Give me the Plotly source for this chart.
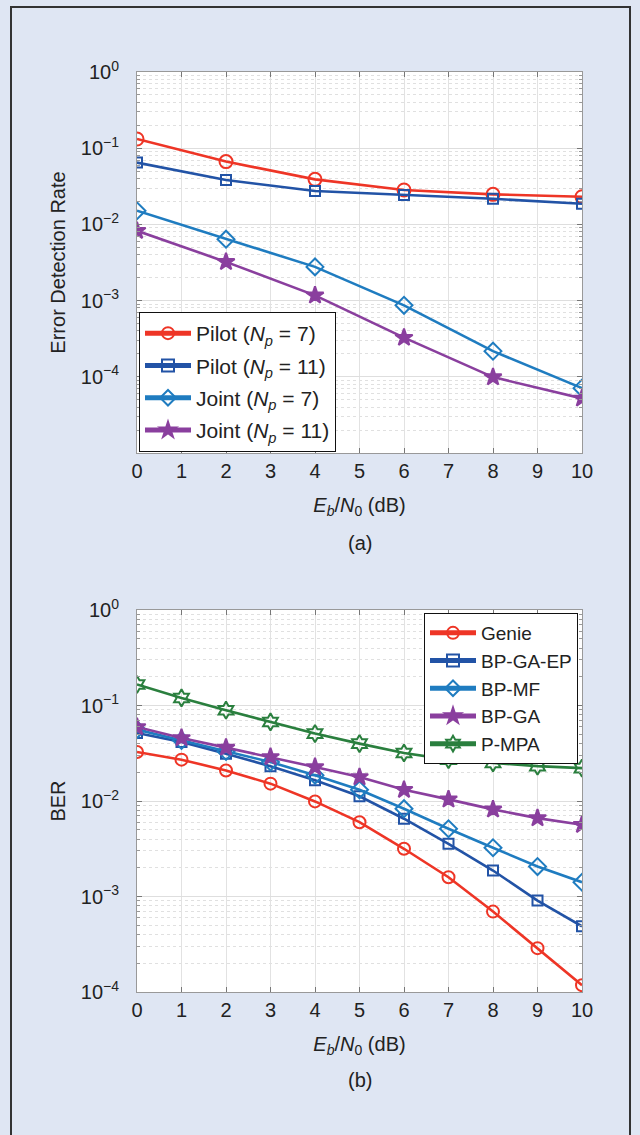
import plotly.graph_objects as go

# ---------------- data ----------------
snr_a = [0, 2, 4, 6, 8, 10]
pilot_np7 = [0.132, 0.0667, 0.039, 0.0283, 0.0248, 0.0231]
pilot_np11 = [0.0647, 0.0383, 0.0274, 0.0243, 0.0217, 0.0187]
joint_np7 = [0.0151, 0.0064, 0.00277, 0.000867, 0.000217, 7.1e-5]
joint_np11 = [0.00824, 0.00322, 0.00117, 0.000326, 9.9e-5, 5.2e-5]

snr_b = [0, 1, 2, 3, 4, 5, 6, 7, 8, 9, 10]
genie = [0.0326, 0.0271, 0.0209, 0.0152, 0.0099, 0.0060, 0.00316, 0.00159, 0.000695, 0.000288, 0.000118]
bp_ga_ep = [0.0516, 0.0415, 0.0313, 0.0231, 0.0165, 0.0112, 0.00652, 0.00356, 0.00187, 0.000906, 0.000487]
bp_mf = [0.056, 0.043, 0.033, 0.0256, 0.0186, 0.0131, 0.0083, 0.00512, 0.00324, 0.00206, 0.00141]
bp_ga = [0.0596, 0.0457, 0.0362, 0.0289, 0.0227, 0.0178, 0.0131, 0.0104, 0.00817, 0.00662, 0.00564]
p_mpa = [0.166, 0.120, 0.0893, 0.0673, 0.0508, 0.0399, 0.0318, 0.0271, 0.0250, 0.0232, 0.0221]

x_ticks = list(range(0, 11))
y_tickvals = [1, 0.1, 0.01, 0.001, 0.0001]
y_ticktext = ["10<sup>0</sup>", "10<sup>−1</sup>", "10<sup>−2</sup>", "10<sup>−3</sup>", "10<sup>−4</sup>"]

legend_a = ["Pilot (<i>N<sub>p</sub></i> = 7)", "Pilot (<i>N<sub>p</sub></i> = 11)",
            "Joint (<i>N<sub>p</sub></i> = 7)", "Joint (<i>N<sub>p</sub></i> = 11)"]
legend_b = ["Genie", "BP-GA-EP", "BP-MF", "BP-GA", "P-MPA"]

# ---------------- styles ----------------
RED = "#ee3526"
DBLUE = "#2253a6"
LBLUE = "#1f7cc0"
PURPLE = "#8a3f9e"
GREEN = "#2a7f3e"
BG = "#dfe6f3"
FONT = "Liberation Sans, Arial, sans-serif"
W, H = 640, 1135

fig = go.Figure()

def add(x, y, name, color, symbol, size, xa, ya, legend, group):
    marker = dict(symbol=symbol, size=size, color=color,
                  line=dict(color=color, width=2))
    fig.add_trace(go.Scatter(x=x, y=y, name=name, mode="lines+markers",
                             line=dict(color=color, width=2.6),
                             marker=marker, xaxis=xa, yaxis=ya,
                             legend=legend, legendgroup=group))

add(snr_a, pilot_np7, legend_a[0], RED, "circle-open", 13, "x", "y", "legend", "a1")
add(snr_a, pilot_np11, legend_a[1], DBLUE, "square-open", 10, "x", "y", "legend", "a2")
add(snr_a, joint_np7, legend_a[2], LBLUE, "diamond-open", 13, "x", "y", "legend", "a3")
add(snr_a, joint_np11, legend_a[3], PURPLE, "star", 13, "x", "y", "legend", "a4")

add(snr_b, genie, legend_b[0], RED, "circle-open", 12, "x2", "y2", "legend2", "b1")
add(snr_b, bp_ga_ep, legend_b[1], DBLUE, "square-open", 10, "x2", "y2", "legend2", "b2")
add(snr_b, bp_mf, legend_b[2], LBLUE, "diamond-open", 13, "x2", "y2", "legend2", "b3")
add(snr_b, bp_ga, legend_b[3], PURPLE, "star", 13, "x2", "y2", "legend2", "b4")
add(snr_b, p_mpa, legend_b[4], GREEN, "hexagram-open", 13, "x2", "y2", "legend2", "b5")

xdom = [137 / W, 582 / W]
ydom_a = [1 - 453 / H, 1 - 72 / H]
ydom_b = [1 - 992 / H, 1 - 610 / H]

xtitle = "<i>E<sub>b</sub></i>/<i>N</i><sub>0</sub> (dB)"

def xaxis(anchor):
    return dict(domain=xdom, anchor=anchor, range=[0, 10], tickvals=x_ticks,
                ticks="inside", ticklen=5, tickcolor="#777", mirror="allticks",
                showline=True, linecolor="#999", linewidth=1,
                showgrid=True, gridcolor="#e2e2e2", gridwidth=1, zeroline=False,
                tickfont=dict(size=20, color="#222", family=FONT),
                ticklabelstandoff=0,
                title=dict(text=xtitle, font=dict(size=20, color="#222", family=FONT), standoff=16))

def yaxis(anchor, dom, rng, title):
    return dict(domain=dom, anchor=anchor, type="log", range=rng,
                tickvals=y_tickvals, ticktext=y_ticktext,
                ticks="inside", ticklen=5, tickcolor="#777", mirror="allticks",
                showline=True, linecolor="#999", linewidth=1,
                showgrid=True, gridcolor="#dedede", gridwidth=1, zeroline=False,
                minor=dict(dtick="D1", ticks="inside", ticklen=3, tickcolor="#999",
                           showgrid=True, gridcolor="#e0e0e0", griddash="dot", gridwidth=1),
                tickfont=dict(size=20, color="#222", family=FONT),
                ticklabelstandoff=13,
                title=dict(text=title, font=dict(size=20, color="#222", family=FONT), standoff=9))

fig.update_layout(
    width=W, height=H, autosize=False,
    margin=dict(l=0, r=0, t=0, b=0, pad=0, autoexpand=False),
    paper_bgcolor=BG, plot_bgcolor="white",
    font=dict(family=FONT, size=20, color="#222"),
    xaxis=xaxis("y"),
    yaxis=yaxis("x", ydom_a, [-5, 0], "Error Detection Rate"),
    xaxis2=xaxis("y2"),
    yaxis2=yaxis("x2", ydom_b, [-4, 0], "BER"),
    legend=dict(x=139 / W, y=1 - 452 / H, xanchor="left", yanchor="bottom",
                bgcolor="white", bordercolor="#111", borderwidth=1,
                font=dict(size=21, family=FONT, color="#222"),
                tracegroupgap=2, itemsizing="constant", itemwidth=46),
    legend2=dict(x=578 / W, y=1 - 613 / H, xanchor="right", yanchor="top",
                 bgcolor="white", bordercolor="#111", borderwidth=1,
                 font=dict(size=19, family=FONT, color="#222"),
                 tracegroupgap=0, itemsizing="constant", itemwidth=46),
    showlegend=True,
)

fig.add_annotation(text="(a)", x=360 / W, y=1 - 543 / H, xref="paper", yref="paper",
                   xanchor="center", yanchor="middle",
                   showarrow=False, font=dict(size=20, family=FONT, color="#222"))
fig.add_annotation(text="(b)", x=360 / W, y=1 - 1080 / H, xref="paper", yref="paper",
                   xanchor="center", yanchor="middle",
                   showarrow=False, font=dict(size=20, family=FONT, color="#222"))

# outer frame (left, top, right edges)
fig.add_shape(type="path", xref="paper", yref="paper",
              path=f"M {11/W},-0.01 L {11/W},{1-7/H} L {630/W},{1-7/H} L {630/W},-0.01",
              line=dict(color="#333", width=2))

fig.write_html("out.html",
               config={"displayModeBar": False},
               post_script="document.body.style.margin='0';document.body.style.background='" + BG + "';")
